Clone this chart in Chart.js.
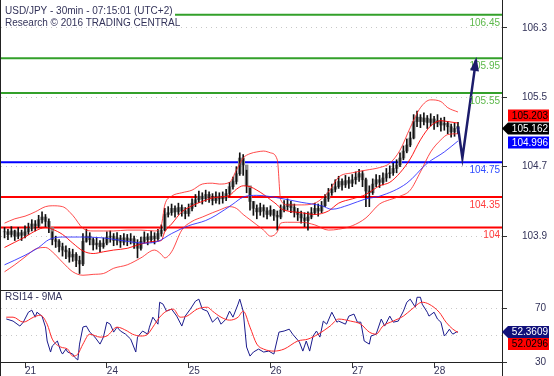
<!DOCTYPE html>
<html>
<head>
<meta charset="utf-8">
<script src="https://cdn.jsdelivr.net/npm/chart.js@4/dist/chart.umd.min.js"></script>
<style>
  body { margin: 0; background: #fff; }
  #wrap { position: relative; width: 554px; height: 376px; }
  #priceChart { position: absolute; left: 0; top: 0; }
  #rsiChart { position: absolute; left: 0; top: 290px; }
</style>
</head>
<body>
<div id="wrap">
  <canvas id="priceChart" width="554" height="290"></canvas>
  <canvas id="rsiChart" width="554" height="86"></canvas>
</div>
<script>
// hourly bars, first bar at hour 18 (hour 24 = start of the 21st)
const firstHour = 18;

const closes = [
  103.95, 103.92, 103.96, 103.90, 103.94, 103.91, 103.95, 103.99, 104.04, 104.02,
  104.09, 104.12, 104.07, 104.00, 103.86, 103.84, 103.78, 103.74, 103.72, 103.66,
  103.69, 103.62, 103.58, 103.84, 103.90, 103.86, 103.80, 103.82, 103.78, 103.82,
  103.89, 103.90, 103.85, 103.88, 103.83, 103.88, 103.85, 103.87, 103.82, 103.76,
  103.84, 103.89, 103.86, 103.90, 103.87, 103.93, 103.97, 104.15, 104.17, 104.22,
  104.18, 104.23, 104.19, 104.16, 104.22, 104.28, 104.32, 104.36, 104.33, 104.38,
  104.35, 104.31, 104.36, 104.33, 104.34, 104.39, 104.47, 104.53, 104.62, 104.80,
  104.72, 104.48, 104.30, 104.22, 104.18, 104.23, 104.19, 104.15, 104.20, 104.14,
  104.12, 104.20, 104.24, 104.27, 104.23, 104.18, 104.15, 104.11, 104.08, 104.12,
  104.17, 104.22, 104.19, 104.25, 104.33, 104.40, 104.44, 104.47, 104.53, 104.49,
  104.54, 104.51, 104.55, 104.58, 104.62, 104.55, 104.42, 104.40, 104.50, 104.55,
  104.52, 104.57, 104.62, 104.63, 104.68, 104.72, 104.80, 104.88, 104.95, 105.03,
  105.22, 105.27, 105.22, 105.26, 105.21, 105.25, 105.20, 105.23, 105.18, 105.20,
  105.16, 105.10, 105.14, 105.162
];
const highs = [
  104.00, 103.98, 104.01, 103.97, 104.00, 103.97, 104.02, 104.05, 104.09, 104.08,
  104.14, 104.18, 104.15, 104.10, 103.95, 103.90, 103.86, 103.82, 103.79, 103.76,
  103.75, 103.71, 103.67, 103.93, 103.98, 103.94, 103.88, 103.88, 103.85, 103.88,
  103.95, 103.96, 103.93, 103.94, 103.91, 103.93, 103.92, 103.93, 103.90, 103.86,
  103.89, 103.95, 103.93, 103.96, 103.94, 103.98, 104.03, 104.22, 104.24, 104.27,
  104.25, 104.28, 104.26, 104.23, 104.27, 104.33, 104.38, 104.42, 104.40, 104.43,
  104.41, 104.39, 104.41, 104.40, 104.41, 104.44, 104.52, 104.58, 104.70, 104.86,
  104.84, 104.66, 104.45, 104.30, 104.26, 104.28, 104.26, 104.23, 104.25, 104.21,
  104.19, 104.26, 104.31, 104.33, 104.30, 104.27, 104.22, 104.19, 104.17, 104.18,
  104.23, 104.28, 104.27, 104.30, 104.38, 104.45, 104.50, 104.55, 104.59, 104.56,
  104.60, 104.58, 104.61, 104.64, 104.67, 104.65, 104.57, 104.48, 104.56, 104.61,
  104.60, 104.63, 104.68, 104.71, 104.74, 104.78, 104.86, 104.94, 105.02, 105.10,
  105.30, 105.34, 105.30, 105.32, 105.29, 105.31, 105.28, 105.30, 105.26, 105.27,
  105.22, 105.19, 105.20, 105.21
];
const lows = [
  103.88, 103.86, 103.89, 103.85, 103.87, 103.85, 103.88, 103.92, 103.96, 103.96,
  104.00, 104.05, 104.01, 103.94, 103.80, 103.77, 103.72, 103.67, 103.64, 103.60,
  103.61, 103.55, 103.47, 103.56, 103.83, 103.80, 103.74, 103.75, 103.72, 103.76,
  103.80, 103.83, 103.79, 103.80, 103.77, 103.80, 103.79, 103.81, 103.76, 103.65,
  103.74, 103.82, 103.80, 103.83, 103.81, 103.85, 103.90, 103.96, 104.12, 104.14,
  104.12, 104.15, 104.13, 104.10, 104.13, 104.19, 104.24, 104.29, 104.27, 104.30,
  104.29, 104.26, 104.28, 104.27, 104.28, 104.31, 104.36, 104.44, 104.50, 104.60,
  104.60, 104.40, 104.20, 104.14, 104.10, 104.14, 104.12, 104.10, 104.13, 104.08,
  103.97, 104.10, 104.18, 104.20, 104.17, 104.12, 104.08, 104.05, 104.01, 103.97,
  104.10, 104.15, 104.13, 104.17, 104.24, 104.30, 104.37, 104.41, 104.45, 104.43,
  104.46, 104.45, 104.47, 104.50, 104.53, 104.47, 104.24, 104.24, 104.38, 104.47,
  104.46, 104.49, 104.53, 104.57, 104.60, 104.63, 104.70, 104.78, 104.86, 104.93,
  105.02, 105.16, 105.15, 105.18, 105.14, 105.17, 105.13, 105.16, 105.11, 105.12,
  105.08, 105.04, 105.05, 105.08
];

// bollinger bands, read every few hours
const bandHours = [18, 21, 24, 27, 30, 32, 35, 38, 41, 44, 47, 50, 54, 58, 62, 64, 65, 67, 70, 73,
  76, 79, 81, 84, 86, 88, 90, 92, 94, 96, 98, 99, 101, 105, 109, 113, 116, 120, 124, 128,
  131, 134, 137, 140, 143, 146, 148, 151];
const bandUpper = [104.05, 104.10, 104.13, 104.18, 104.24, 104.25, 104.24, 104.14, 103.99, 103.96,
  103.96, 103.96, 103.97, 103.97, 103.96, 104.03, 104.26, 104.36, 104.40, 104.43,
  104.50, 104.51, 104.50, 104.52, 104.66, 104.80, 104.85, 104.87, 104.88, 104.86,
  104.78, 104.32, 104.26, 104.26, 104.28, 104.41, 104.58, 104.63, 104.66, 104.69,
  104.74, 104.89, 105.15, 105.38, 105.47, 105.45, 105.38, 105.33];
const bandMid = [103.77, 103.83, 103.89, 103.96, 104.00, 103.98, 103.92, 103.82, 103.73, 103.70,
  103.72, 103.74, 103.76, 103.81, 103.84, 103.85, 103.95, 104.04, 104.18, 104.25,
  104.30, 104.34, 104.35, 104.37, 104.44, 104.48, 104.47, 104.43, 104.38, 104.32,
  104.26, 104.22, 104.19, 104.17, 104.15, 104.19, 104.28, 104.33, 104.38, 104.48,
  104.52, 104.63, 104.79, 105.01, 105.17, 105.23, 105.22, 105.203];
const bandLower = [103.49, 103.57, 103.66, 103.75, 103.77, 103.72, 103.60, 103.49, 103.45, 103.46,
  103.47, 103.53, 103.57, 103.65, 103.74, 103.69, 103.65, 103.72, 103.97, 104.07,
  104.12, 104.17, 104.20, 104.24, 104.22, 104.15, 104.09, 104.03, 103.97, 103.90,
  103.95, 104.05, 104.06, 104.06, 104.03, 103.97, 103.98, 104.02, 104.11, 104.27,
  104.32, 104.36, 104.43, 104.64, 104.87, 105.01, 105.07, 105.08];

// slow moving average (blue)
const maHours = [18, 24, 28, 31, 35, 40, 47, 54, 59, 63, 67, 72, 77, 80, 85, 88, 92, 97, 105, 111,
  114, 119, 124, 128, 136, 142, 147, 151];
const maValues = [103.57, 103.68, 103.77, 103.86, 103.89, 103.89, 103.88, 103.84, 103.82, 103.84,
  103.93, 104.02, 104.08, 104.14, 104.27, 104.35, 104.37, 104.35, 104.29, 104.25,
  104.21, 104.26, 104.33, 104.36, 104.51, 104.74, 104.87, 104.996];

// support / resistance levels
const levelValues = [106.45, 105.95, 105.55, 104.75, 104.35, 104];
const levelLabels = ['106.45', '105.95', '105.55', '104.75', '104.35', '104'];
const levelStart = [68, 16.96, 16.96, 16.96, 16.96, 16.96];

// projected path
const arrowHours = [151, 152.3, 156.3];
const arrowPrices = [105.162, 104.80, 105.93];

const priceTicks = [103.9, 104.7, 105.5, 106.3];
const dayHours = [24, 48, 72, 96, 120, 144];
const dayLabels = ['21', '24', '25', '26', '27', '28'];

// RSI 14 and its 9 period average
const rsiHours = [18.5, 20.5, 22.5, 23.5, 25, 26, 27, 27.5, 29, 30,
  30.5, 31.5, 32, 33.5, 34.5, 35, 36, 36.5, 38, 38.5,
  39.5, 40, 41, 42, 43, 44.5, 46, 47, 48, 49,
  50, 51, 52, 53.5, 55, 56.5, 57, 58.5, 60, 60.5,
  61.5, 63, 63.5, 64.5, 65.5, 67, 68.5, 70, 71, 72.5,
  74, 75, 76, 77.5, 79, 80.5, 81.5, 83, 84, 85,
  86.5, 87, 88, 89, 90, 91, 92.5, 94, 95.5, 97,
  98.5, 100, 101.5, 102.5, 104.5, 105.5, 106.5, 107.5, 108.5, 109.5,
  110.5, 111.5, 112.5, 114, 115.5, 116, 118, 119, 120.5, 121.5,
  122.5, 123.5, 125, 125.5, 127, 128.5, 129.5, 131, 132, 133.5,
  135, 136, 137, 138.5, 139, 140, 140.5, 142, 142.5, 144,
  145, 146, 147, 147.5, 148.5, 149, 149.5, 150.5, 151];
const rsiValues = [62.0, 60.4, 56.7, 59.6, 67.0, 68.5, 63.3, 67.0, 64.0, 56.0,
  45.6, 37.4, 41.9, 45.6, 38.1, 35.9, 39.6, 37.4, 35.9, 33.7,
  31.5, 43.3, 56.0, 56.7, 52.2, 48.5, 43.3, 48.5, 59.6, 58.1,
  52.2, 55.9, 53.0, 50.7, 47.0, 37.4, 48.5, 53.0, 50.7, 55.9,
  63.3, 58.1, 74.4, 73.0, 67.8, 69.3, 64.1, 56.7, 64.1, 69.3,
  75.2, 76.7, 69.3, 67.8, 59.6, 63.3, 58.1, 61.9, 67.8, 63.3,
  73.0, 76.7, 67.8, 41.1, 34.4, 37.4, 39.6, 37.4, 38.1, 35.9,
  52.2, 53.0, 54.4, 50.7, 44.8, 38.1, 45.6, 38.1, 49.3, 53.0,
  48.5, 60.4, 58.1, 67.0, 59.6, 60.4, 58.1, 64.1, 65.6, 59.6,
  59.6, 45.6, 43.3, 49.3, 50.7, 61.9, 56.7, 64.1, 59.6, 60.4,
  67.8, 74.4, 76.7, 70.7, 78.1, 78.1, 73.0, 67.0, 64.1, 67.0,
  61.9, 59.6, 49.3, 50.7, 54.4, 52.2, 50.7, 52.2, 52.3609];
const rsiMaHours = [18.5, 20.5, 23.5, 26.5, 28.5, 30.5, 32, 34.5, 36.5, 38,
  39.5, 41, 43, 46, 48, 51, 54, 55.5, 58, 60,
  61.5, 63.5, 65.5, 67.5, 69.5, 71.5, 74.5, 77.5, 79, 81.5,
  84, 86.5, 88, 90, 92, 94, 97, 100, 104, 107,
  110, 113.5, 116, 119.5, 122.5, 125, 127, 129, 132, 135,
  137.5, 140.5, 142.5, 145.5, 147.5, 149.5, 151];
const rsiMaValues = [63.3, 63.3, 59.6, 63.3, 64.8, 58.1, 47.0, 41.1, 39.6, 34.4,
  35.9, 43.3, 50.7, 48.5, 49.3, 55.9, 53.0, 50.7, 49.3, 50.7,
  55.9, 63.3, 67.8, 69.3, 63.3, 64.1, 69.3, 70.7, 67.8, 63.3,
  61.1, 63.3, 67.8, 55.9, 43.3, 39.6, 38.1, 39.6, 45.6, 47.0,
  50.7, 56.7, 61.9, 60.4, 58.1, 52.2, 50.7, 56.7, 60.4, 64.1,
  69.3, 74.4, 73.0, 67.0, 59.6, 54.4, 52.0296];

const xMin = 16.96, xMax = 163.92;
const FONT = '"Liberation Sans", Arial, sans-serif';
const textColor = '#33335a';
const levelColors = ['#33a02a', '#33a02a', '#33a02a', '#0000ff', '#ff0000', '#ff0000'];
const levelTextColors = ['#5cb84a', '#5cb84a', '#5cb84a', '#2f4cff', '#ff3a3a', '#ff3a3a'];

Chart.defaults.font.family = FONT;
Chart.defaults.font.size = 10;

function pts(xs, ys) {
    return xs.map((x, i) => ({ x: x, y: ys[i] }));
}

// fixed width for the right axis, and no extra vertical padding from the labels
function fitRightAxis(scale) {
    scale.width = 52;
    scale.paddingTop = 0;
    scale.paddingBottom = 0;
}

function drawTag(ctx, text, cy, bg, fg, pointer) {
    const x0 = 508, x1 = 549, h = 12;
    ctx.fillStyle = bg;
    ctx.beginPath();
    if (pointer) {
        ctx.moveTo(502, cy);
        ctx.lineTo(x0, cy - h / 2);
    } else {
        ctx.moveTo(x0, cy - h / 2);
    }
    ctx.lineTo(x1, cy - h / 2);
    ctx.lineTo(x1, cy + h / 2);
    ctx.lineTo(x0, cy + h / 2);
    ctx.closePath();
    ctx.fill();
    ctx.fillStyle = fg;
    ctx.font = '10px ' + FONT;
    ctx.textAlign = 'right';
    ctx.textBaseline = 'middle';
    ctx.fillText(text, x1 - 1, cy + 0.5);
}

function vline(ctx, x, y0, y1, color) {
    ctx.strokeStyle = color;
    ctx.lineWidth = 1;
    ctx.beginPath();
    ctx.moveTo(x, y0);
    ctx.lineTo(x, y1);
    ctx.stroke();
}

function hline(ctx, y, x0, x1, color) {
    ctx.strokeStyle = color;
    ctx.lineWidth = 1;
    ctx.beginPath();
    ctx.moveTo(x0, y);
    ctx.lineTo(x1, y);
    ctx.stroke();
}

const priceOverlay = {
    id: 'priceOverlay',
    afterDraw(chart) {
        const ctx = chart.ctx;
        const xs = chart.scales.x, ys = chart.scales.y;
        const area = chart.chartArea;
        ctx.save();
        vline(ctx, 0.5, 0, chart.height, '#222');
        vline(ctx, 502.5, 0, chart.height, '#222');

        ctx.font = '10px ' + FONT;
        ctx.fillStyle = textColor;
        ctx.textAlign = 'left';
        ctx.textBaseline = 'middle';
        ctx.fillText('USD/JPY - 30min - 07:15:01 (UTC+2)', 5, 11);
        ctx.fillText('Research \u00A9 2016 TRADING CENTRAL', 5, 23);

        // level labels under each line
        ctx.textAlign = 'right';
        levelValues.forEach((v, i) => {
            ctx.fillStyle = levelTextColors[i];
            ctx.fillText(levelLabels[i], area.right - 2, ys.getPixelForValue(v) + 8);
        });

        // arrow head
        const n = arrowHours.length;
        const ax = xs.getPixelForValue(arrowHours[n - 1]), ay = ys.getPixelForValue(arrowPrices[n - 1]);
        const bx = xs.getPixelForValue(arrowHours[n - 2]), by = ys.getPixelForValue(arrowPrices[n - 2]);
        const ang = Math.atan2(ay - by, ax - bx);
        ctx.fillStyle = '#1c1c6b';
        ctx.beginPath();
        ctx.moveTo(ax + Math.cos(ang) * 3, ay + Math.sin(ang) * 3);
        ctx.lineTo(ax - Math.cos(ang) * 11 + Math.sin(ang) * 4.5, ay - Math.sin(ang) * 11 - Math.cos(ang) * 4.5);
        ctx.lineTo(ax - Math.cos(ang) * 11 - Math.sin(ang) * 4.5, ay - Math.sin(ang) * 11 + Math.cos(ang) * 4.5);
        ctx.closePath();
        ctx.fill();

        // last value tags
        const last = closes.length - 1;
        const closeY = ys.getPixelForValue(closes[last]) + 2;
        const midY = Math.min(ys.getPixelForValue(bandMid[bandMid.length - 1]), closeY - 13);
        const maY = Math.max(ys.getPixelForValue(maValues[maValues.length - 1]), closeY + 14);
        drawTag(ctx, bandMid[bandMid.length - 1].toFixed(3), midY, '#ff0000', '#000', false);
        drawTag(ctx, closes[last].toFixed(3), closeY, '#000', '#fff', true);
        drawTag(ctx, maValues[maValues.length - 1].toFixed(3), maY, '#0000ff', '#fff', false);
        ctx.restore();
    }
};

const rsiOverlay = {
    id: 'rsiOverlay',
    afterDraw(chart) {
        const ctx = chart.ctx;
        const ys = chart.scales.y;
        const area = chart.chartArea;
        ctx.save();
        vline(ctx, 0.5, 0, chart.height, '#222');
        vline(ctx, 502.5, 0, chart.height, '#222');
        hline(ctx, 0.5, 0, 503, '#222');
        hline(ctx, area.bottom + 0.5, 0, 503, '#222');

        ctx.font = '10px ' + FONT;
        ctx.fillStyle = textColor;
        ctx.textAlign = 'left';
        ctx.textBaseline = 'middle';
        ctx.fillText('RSI14 - 9MA', 5, 7);

        const rsiLast = rsiValues[rsiValues.length - 1];
        const maLast = rsiMaValues[rsiMaValues.length - 1];
        const rY = ys.getPixelForValue(rsiLast);
        const mY = Math.max(ys.getPixelForValue(maLast), rY + 12);
        drawTag(ctx, rsiLast.toFixed(4), rY, '#10107a', '#fff', true);
        drawTag(ctx, maLast.toFixed(4), mY, '#ff0000', '#000', false);
        ctx.restore();
    }
};

function createPriceChart(elementId) {
    const ctx = document.getElementById(elementId).getContext('2d');
    const hours = closes.map((c, i) => firstHour + i);

    const levelSets = levelValues.map((v, i) => ({
        type: 'line',
        data: [{ x: levelStart[i], y: v }, { x: xMax, y: v }],
        borderColor: levelColors[i],
        borderWidth: 2,
        pointRadius: 0,
        order: 6
    }));

    return new Chart(ctx, {
        type: 'bar',
        data: {
            datasets: levelSets.concat([
                {
                    type: 'bar',
                    data: hours.map((h, i) => ({ x: h, y: [i ? closes[i - 1] : closes[i], closes[i]] })),
                    backgroundColor: '#8c8c8c',
                    barThickness: 3,
                    grouped: false,
                    order: 5
                },
                {
                    type: 'bar',
                    data: hours.map((h, i) => ({ x: h, y: [lows[i], highs[i]] })),
                    backgroundColor: '#111',
                    barThickness: 1,
                    grouped: false,
                    order: 4
                },
                {
                    type: 'line',
                    data: pts(bandHours, bandUpper),
                    borderColor: 'rgba(255,30,30,0.8)',
                    borderWidth: 1,
                    pointRadius: 0,
                    cubicInterpolationMode: 'monotone',
                    order: 3
                },
                {
                    type: 'line',
                    data: pts(bandHours, bandLower),
                    borderColor: 'rgba(255,30,30,0.8)',
                    borderWidth: 1,
                    pointRadius: 0,
                    cubicInterpolationMode: 'monotone',
                    order: 3
                },
                {
                    type: 'line',
                    data: pts(bandHours, bandMid),
                    borderColor: 'rgba(255,0,0,0.9)',
                    borderWidth: 1,
                    pointRadius: 0,
                    cubicInterpolationMode: 'monotone',
                    order: 2
                },
                {
                    type: 'line',
                    data: pts(maHours, maValues),
                    borderColor: 'rgba(40,40,255,0.85)',
                    borderWidth: 1,
                    pointRadius: 0,
                    cubicInterpolationMode: 'monotone',
                    order: 1
                },
                {
                    type: 'line',
                    data: pts(arrowHours, arrowPrices),
                    borderColor: '#1c1c6b',
                    borderWidth: 2.5,
                    pointRadius: 0,
                    order: 0
                }
            ])
        },
        options: {
            responsive: false,
            animation: false,
            events: [],
            layout: { padding: { left: 1, right: 0, top: 0, bottom: 0 } },
            plugins: { legend: { display: false }, tooltip: { enabled: false } },
            scales: {
                x: { type: 'linear', min: xMin, max: xMax, display: false, offset: false },
                y: {
                    position: 'right',
                    min: 103.28,
                    max: 106.62,
                    afterFit: fitRightAxis,
                    afterBuildTicks: function (scale) {
                        scale.ticks = priceTicks.map(v => ({ value: v }));
                    },
                    ticks: {
                        callback: v => v.toFixed(1),
                        color: textColor,
                        padding: 15,
                        crossAlign: 'near',
                        font: { size: 10 }
                    },
                    grid: { color: '#c8c8c8', tickLength: 5, tickColor: '#333', tickBorderDash: [] },
                    border: { display: false, dash: [1, 4] }
                }
            }
        },
        plugins: [priceOverlay]
    });
}

function createRsiChart(elementId) {
    const ctx = document.getElementById(elementId).getContext('2d');
    return new Chart(ctx, {
        type: 'line',
        data: {
            datasets: [
                {
                    data: pts(rsiMaHours, rsiMaValues),
                    borderColor: '#ff2a2a',
                    borderWidth: 1,
                    pointRadius: 0,
                    cubicInterpolationMode: 'monotone'
                },
                {
                    data: pts(rsiHours, rsiValues),
                    borderColor: '#1a1a8c',
                    borderWidth: 1,
                    pointRadius: 0
                }
            ]
        },
        options: {
            responsive: false,
            animation: false,
            events: [],
            layout: { padding: { left: 1, right: 0, top: 0, bottom: 0 } },
            plugins: { legend: { display: false }, tooltip: { enabled: false } },
            scales: {
                x: {
                    type: 'linear',
                    min: xMin,
                    max: xMax,
                    offset: false,
                    afterFit: function (scale) { scale.height = 14; },
                    afterBuildTicks: function (scale) {
                        scale.ticks = dayHours.map(v => ({ value: v }));
                    },
                    ticks: {
                        callback: v => dayLabels[dayHours.indexOf(v)],
                        align: 'start',
                        maxRotation: 0,
                        autoSkip: false,
                        padding: -3,
                        color: textColor,
                        font: { size: 10 }
                    },
                    grid: { drawOnChartArea: false, tickLength: 6, tickColor: '#333' },
                    border: { display: false }
                },
                y: {
                    position: 'right',
                    min: 30,
                    max: 83.5,
                    afterFit: fitRightAxis,
                    afterBuildTicks: function (scale) {
                        scale.ticks = [30, 50, 70].map(v => ({ value: v }));
                    },
                    ticks: {
                        callback: v => (v === 50 ? '' : String(v)),
                        color: textColor,
                        padding: 28,
                        crossAlign: 'near',
                        font: { size: 10 }
                    },
                    grid: {
                        color: c => (c.tick && c.tick.value === 30 ? 'rgba(0,0,0,0)' : '#c8c8c8'),
                        tickColor: c => (c.tick && c.tick.value === 50 ? 'rgba(0,0,0,0)' : '#333'),
                        tickLength: 5,
                        tickBorderDash: []
                    },
                    border: { display: false, dash: [1, 4] }
                }
            }
        },
        plugins: [rsiOverlay]
    });
}

createPriceChart('priceChart');
createRsiChart('rsiChart');
</script>
</body>
</html>
